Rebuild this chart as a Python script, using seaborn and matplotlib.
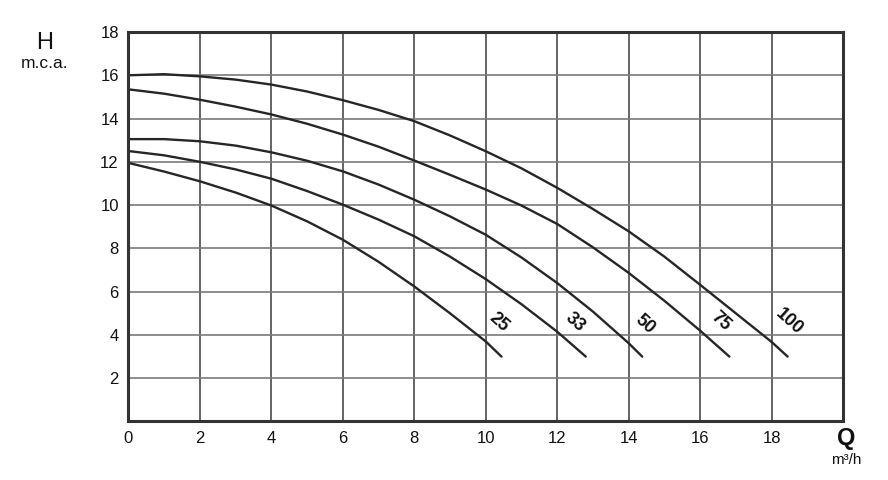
import numpy as np
import pandas as pd
import matplotlib
matplotlib.use("Agg")
import matplotlib.pyplot as plt
import seaborn as sns

# Pump curves: flow Q (m3/h) vs head H (m.c.a.)
q_25 = [0, 1, 2, 3, 4, 5, 6, 7, 8, 9, 10, 10.44]
h_25 = [11.95, 11.55, 11.1, 10.58, 9.98, 9.25, 8.4, 7.38, 6.24, 5.0, 3.7, 3.0]

q_33 = [0, 1, 2, 3, 4, 5, 6, 7, 8, 9, 10, 11, 12, 12.8]
h_33 = [12.5, 12.3, 12.0, 11.65, 11.22, 10.65, 10.02, 9.33, 8.56, 7.62, 6.58, 5.42, 4.15, 3.0]

q_50 = [0, 1, 2, 3, 4, 5, 6, 7, 8, 9, 10, 11, 12, 13, 14, 14.38]
h_50 = [13.05, 13.05, 12.95, 12.75, 12.44, 12.05, 11.56, 10.95, 10.25, 9.48, 8.63, 7.58, 6.4, 5.08, 3.62, 3.0]

q_75 = [0, 1, 2, 3, 4, 5, 6, 7, 8, 9, 10, 11, 12, 13, 14, 15, 16, 16.82]
h_75 = [15.35, 15.15, 14.87, 14.55, 14.19, 13.76, 13.26, 12.7, 12.06, 11.4, 10.72, 9.98, 9.13, 8.05, 6.87, 5.58, 4.2, 3.0]

q_100 = [0, 1, 2, 3, 4, 5, 6, 7, 8, 9, 10, 11, 12, 13, 14, 15, 16, 17, 18, 18.45]
h_100 = [16.0, 16.05, 15.95, 15.8, 15.57, 15.25, 14.85, 14.4, 13.88, 13.22, 12.49, 11.7, 10.8, 9.82, 8.79, 7.62, 6.32, 5.0, 3.68, 3.0]

curve_names = ["25", "33", "50", "75", "100"]
label_x = [10.38, 12.5, 14.45, 16.57, 18.5]
label_y = [4.56, 4.58, 4.48, 4.62, 4.62]

x_ticks = [0, 2, 4, 6, 8, 10, 12, 14, 16, 18]
y_ticks = [2, 4, 6, 8, 10, 12, 14, 16, 18]

frames = []
for name, q, h in zip(curve_names,
                      [q_25, q_33, q_50, q_75, q_100],
                      [h_25, h_33, h_50, h_75, h_100]):
    frames.append(pd.DataFrame({"Q": q, "H": h, "curve": name}))
curves = pd.concat(frames, ignore_index=True)

sns.set_style("white")
plt.rcParams['font.family'] = ['Liberation Sans', 'DejaVu Sans']

fig = plt.figure(figsize=(8.88, 4.8), dpi=100)
ax = fig.add_axes([0.1447, 0.1219, 0.8046, 0.8114])

# verticals a bit darker than horizontals, as in the original
ax.set_xticks(x_ticks + [20])
ax.set_yticks([0] + y_ticks)
ax.xaxis.grid(True, color="#4a4a4a", linewidth=1.2)
ax.yaxis.grid(True, color="#7a7a7a", linewidth=1.2)
ax.set_axisbelow(True)

sns.lineplot(data=curves, x="Q", y="H", hue="curve", units="curve",
             estimator=None, sort=False, legend=False,
             palette=["#262626"] * 5, linewidth=1.7, ax=ax)

for name, lx, ly in zip(curve_names, label_x, label_y):
    ax.text(lx, ly, name, rotation=-42, ha="center", va="center",
            fontsize=13, fontweight="bold", color="#111111")

ax.set_xlim(0, 20)
ax.set_ylim(0, 18)
ax.set_xticklabels([str(t) for t in x_ticks] + [""])
ax.set_yticklabels([""] + [str(t) for t in y_ticks])
ax.tick_params(axis="both", direction="out", length=3, width=1,
               color="#333333", labelsize=12, labelcolor="#111111", pad=4)
ax.set_xlabel("")
ax.set_ylabel("")

for side in ["left", "bottom", "right", "top"]:
    ax.spines[side].set_visible(True)
    ax.spines[side].set_color("#333333")
    ax.spines[side].set_linewidth(2.2)

fig.text(45 / 888, 1 - 43 / 480, "H", ha="center", va="center",
         fontsize=17, color="#111111")
fig.text(45 / 888, 1 - 63 / 480, "m.c.a.", ha="center", va="center",
         fontsize=12.5, color="#111111")
fig.text(846 / 888, 1 - 438 / 480, "Q", ha="center", va="center",
         fontsize=17, fontweight="bold", color="#111111")
fig.text(846 / 888, 1 - 460 / 480, "m\u00b3/h", ha="center", va="center",
         fontsize=11, color="#111111")

fig.savefig("out.png", dpi=100, facecolor="white")
